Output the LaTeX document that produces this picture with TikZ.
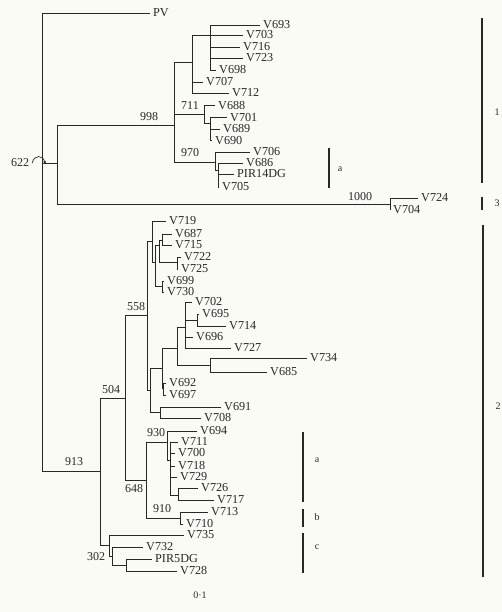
\documentclass[tikz,border=0pt]{standalone}
\usepackage{fontspec}
\setmainfont{Liberation Serif}
\usetikzlibrary{arrows.meta}
\definecolor{paper}{RGB}{251,251,246}
\definecolor{ink}{RGB}{40,40,40}

\begin{document}
\begin{tikzpicture}[x=1pt, y=-1pt,
  branch/.style={draw=ink, line width=0.9pt},
  fork/.style={inner sep=0pt, minimum size=0pt},
  leaf/.style={anchor=west, inner xsep=3pt, inner ysep=0pt, text=ink,
    font=\fontsize{12.2}{12}\selectfont},
  boot/.style={inner sep=0pt, text=ink, font=\fontsize{12}{12}\selectfont},
  grp/.style={draw=ink, line width=1.1pt},
  grplabel/.style={inner sep=0pt, text=ink, font=\fontsize{10}{10}\selectfont},
]
\fill[paper] (0,0) rectangle (502,612);
\useasboundingbox (0,0) rectangle (502,612);

% forks of the tree
\node[fork] (root)  at (42,471) {};
\node[fork] (n13)   at (57,163) {};
\node[fork] (n998)  at (174,125) {};
\node[fork] (nup)   at (192,62) {};
\node[fork] (ntop)  at (210,35) {};
\node[fork] (n711)  at (204,114) {};
\node[fork] (n711b) at (210,123) {};
\node[fork] (n970)  at (215,162) {};
\node[fork] (n970b) at (218,170) {};
\node[fork] (n1000) at (390,204) {};
\node[fork] (n913)  at (100,471) {};
\node[fork] (n504)  at (125,398) {};
\node[fork] (n558)  at (147,315) {};
\node[fork] (na)    at (152,241) {};
\node[fork] (na1)   at (155,262) {};
\node[fork] (na2)   at (159,245) {};
\node[fork] (na3)   at (162,286) {};
\node[fork] (na4)   at (162,240) {};
\node[fork] (na5)   at (177,262) {};
\node[fork] (nbc)   at (150,390) {};
\node[fork] (nb)    at (162,368) {};
\node[fork] (nb1)   at (177,348) {};
\node[fork] (nb2)   at (163,388) {};
\node[fork] (nb3)   at (185,327) {};
\node[fork] (nb4)   at (210,365) {};
\node[fork] (nb5)   at (197,320) {};
\node[fork] (nc)    at (160,412) {};
\node[fork] (n648)  at (146,480) {};
\node[fork] (n930)  at (167,442) {};
\node[fork] (n930b) at (170,460) {};
\node[fork] (n930c) at (178,495) {};
\node[fork] (n910)  at (180,518) {};
\node[fork] (n302)  at (109,545) {};
\node[fork] (n302b) at (112,556) {};
\node[fork] (n302c) at (126,565) {};

% strains
\node[leaf] (pv)    at (150,13)  {PV};
\node[leaf] (v693)  at (260,25)  {V693};
\node[leaf] (v703)  at (243,35)  {V703};
\node[leaf] (v716)  at (240,47)  {V716};
\node[leaf] (v723)  at (243,58)  {V723};
\node[leaf] (v698)  at (216,70)  {V698};
\node[leaf] (v707)  at (203,82)  {V707};
\node[leaf] (v712)  at (229,93)  {V712};
\node[leaf] (v688)  at (215,105.5) {V688};
\node[leaf] (v701)  at (227,117.5) {V701};
\node[leaf] (v689)  at (220,129) {V689};
\node[leaf] (v690)  at (212,140.5) {V690};
\node[leaf] (v706)  at (250,152) {V706};
\node[leaf] (v686)  at (243,163) {V686};
\node[leaf] (pir14) at (234,174) {PIR14DG};
\node[leaf] (v705)  at (219,187) {V705};
\node[leaf] (v724)  at (418,198) {V724};
\node[leaf] (v704)  at (390,210) {V704};
\node[leaf] (v719)  at (166,221) {V719};
\node[leaf] (v687)  at (172,234) {V687};
\node[leaf] (v715)  at (172,245) {V715};
\node[leaf] (v722)  at (181,257) {V722};
\node[leaf] (v725)  at (178,269) {V725};
\node[leaf] (v699)  at (164,281) {V699};
\node[leaf] (v730)  at (164,292) {V730};
\node[leaf] (v702)  at (192,302) {V702};
\node[leaf] (v695)  at (199,314) {V695};
\node[leaf] (v714)  at (226,326) {V714};
\node[leaf] (v696)  at (193,337) {V696};
\node[leaf] (v727)  at (231,348) {V727};
\node[leaf] (v734)  at (307,358) {V734};
\node[leaf] (v685)  at (267,372) {V685};
\node[leaf] (v692)  at (166,383) {V692};
\node[leaf] (v697)  at (166,395) {V697};
\node[leaf] (v691)  at (221,407) {V691};
\node[leaf] (v708)  at (201,418) {V708};
\node[leaf] (v694)  at (197,431) {V694};
\node[leaf] (v711)  at (178,442) {V711};
\node[leaf] (v700)  at (175,453) {V700};
\node[leaf] (v718)  at (175,466) {V718};
\node[leaf] (v729)  at (177,477) {V729};
\node[leaf] (v726)  at (198,488) {V726};
\node[leaf] (v717)  at (214,500) {V717};
\node[leaf] (v713)  at (208,512) {V713};
\node[leaf] (v710)  at (183,524) {V710};
\node[leaf] (v735)  at (184,535) {V735};
\node[leaf] (v732)  at (143,547) {V732};
\node[leaf] (pir5)  at (152,559) {PIR5DG};
\node[leaf] (v728)  at (177,571) {V728};

% branches, parent to children
\foreach \p/\kids in {root/{pv,n13,n913}, n13/{n998,n1000}, n998/{nup,n711,n970},
    nup/{ntop,v707,v712}, ntop/{v693,v703,v716,v723,v698}, n711/{v688,n711b},
    n711b/{v701,v689,v690}, n970/{v706,n970b}, n970b/{v686,pir14,v705},
    n1000/{v724,v704}, n913/{n504,n302}, n504/{n558,n648}, n558/{na,nbc},
    na/{v719,na1}, na1/{na2,na3}, na2/{na4,na5}, na4/{v687,v715}, na5/{v722,v725},
    na3/{v699,v730}, nbc/{nb,nc}, nb/{nb1,nb2}, nb1/{nb3,nb4},
    nb3/{v702,nb5,v696,v727}, nb5/{v695,v714}, nb4/{v734,v685}, nb2/{v692,v697},
    nc/{v691,v708}, n648/{n930,n910}, n930/{v694,n930b},
    n930b/{v711,v700,v718,v729,n930c}, n930c/{v726,v717}, n910/{v713,v710},
    n302/{v735,n302b}, n302b/{v732,n302c}, n302c/{pir5,v728}}
  \foreach \c in \kids
    \draw[branch] (\p) |- (\c.west);

% bootstrap values
\node[boot] (b622)  at (20,163)  {622};
\node[boot] (b998)  at (149,117) {998};
\node[boot] (b711)  at (190,106) {711};
\node[boot] (b970)  at (190,153) {970};
\node[boot] (b1000) at (360,197) {1000};
\node[boot] (b913)  at (74,462)  {913};
\node[boot] (b504)  at (111,390) {504};
\node[boot] (b558)  at (136,307) {558};
\node[boot] (b648)  at (134,489) {648};
\node[boot] (b930)  at (156,433) {930};
\node[boot] (b910)  at (162,509) {910};
\node[boot] (b302)  at (96,557)  {302};
\draw[ink, line width=0.7pt, -{Stealth[length=3pt,width=3pt]}]
  ([xshift=3pt]b622.east) .. controls ++(2,-9) and ++(-2,-9) .. ++(13,1);

% clusters
\draw[grp] (482,18) -- (482,183);
\node[grplabel] (g1) at (497,112) {1};
\draw[grp] (482,197) -- (482,210);
\node[grplabel] (g3) at (497,203) {3};
\draw[grp] (483,225) -- (483,577);
\node[grplabel] (g2) at (498,406) {2};
\draw[grp] (329,148) -- (329,188);
\node[grplabel] (g1a) at (340,169) {a};
\draw[grp] (303,432) -- (303,502);
\node[grplabel] (g2a) at (317,460) {a};
\draw[grp] (303,509) -- (303,527);
\node[grplabel] (g2b) at (317,517) {b};
\draw[grp] (303,533) -- (303,573);
\node[grplabel] (g2c) at (317,547) {c};

% scale
\node[grplabel] (scale) at (200,595) {0·1};
\end{tikzpicture}
\end{document}
